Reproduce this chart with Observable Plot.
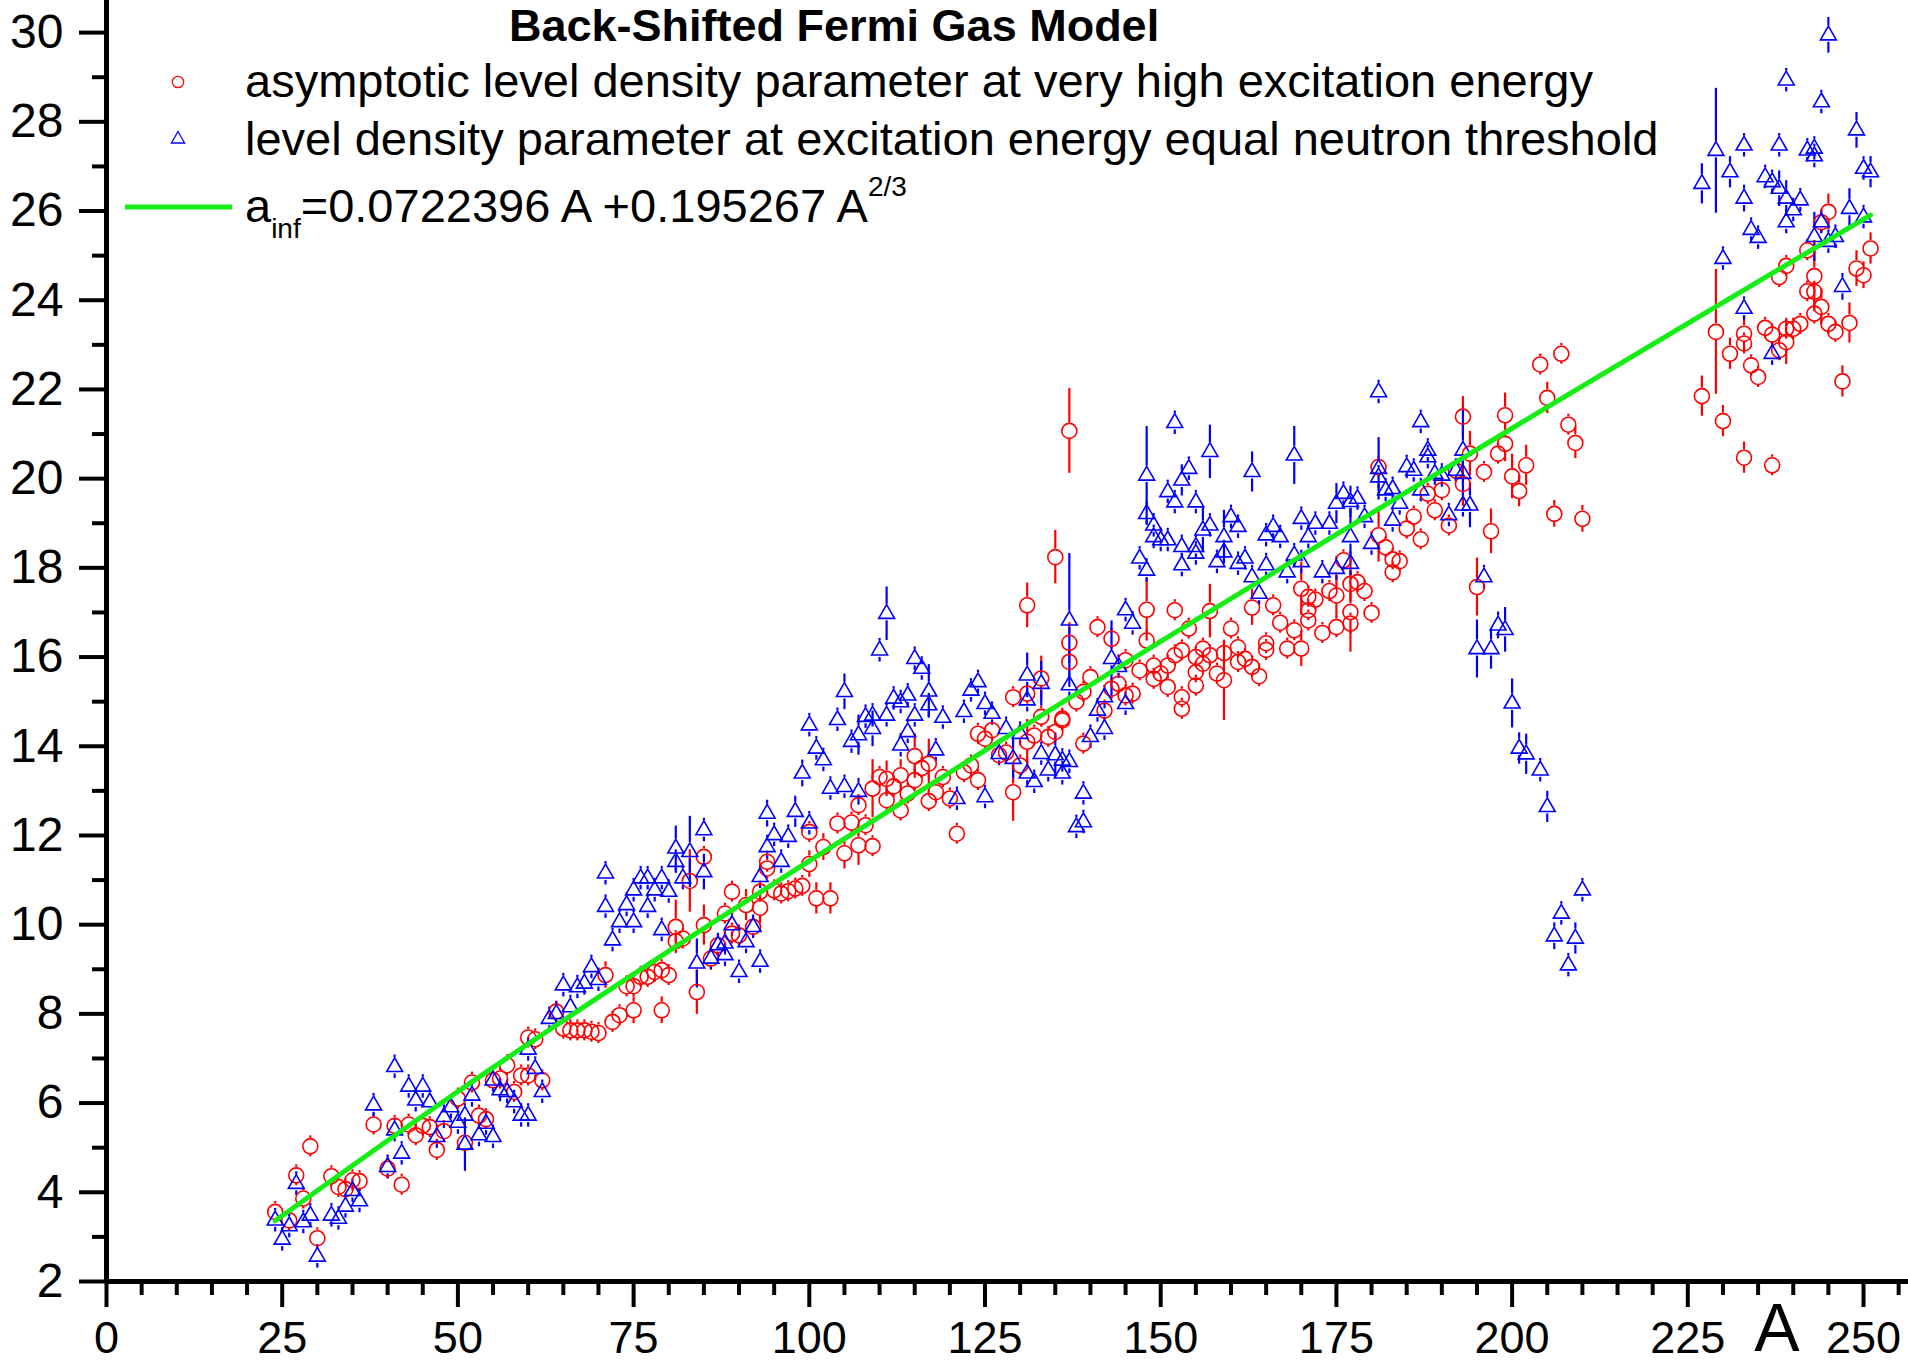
<!DOCTYPE html>
<html>
<head>
<meta charset="utf-8">
<script src="https://cdn.jsdelivr.net/npm/d3@7"></script>
<script src="https://cdn.jsdelivr.net/npm/@observablehq/plot@0.6"></script>
<style>
  html, body { margin: 0; padding: 0; background: #fff; }
  #wrap { position: relative; width: 1908px; height: 1367px; font-family: "Liberation Sans", Arial, sans-serif; }
  #wrap svg { position: absolute; left: 0; top: 0; }
</style>
</head>
<body>
<div id="wrap"></div>
<script>
// ---------- DATA ----------
// [A, value, error?]  (error defaults when omitted)
const redPoints = [
  [24,3.56],[26,3.37],[27,4.38],[28,3.86],[29,5.03],[30,2.97],[32,4.36],[33,4.12],[34,4.07],[35,4.27],[36,4.25],
  [38,5.52],[40,4.53],[41,5.49],[42,4.17],[43,5.52],[44,5.28],[45,5.49],[46,5.46],[47,4.95],[48,5.37],[50,6.1],
  [51,5.11],[52,6.46],[53,5.72],[54,5.64],[55,6.51],[56,6.55],[57,6.85],[58,6.25],[59,6.62],[60,6.62],[60,7.47],
  [61,7.43],[62,6.51],[64,8.05],[65,7.67],[66,7.63],[67,7.63],[68,7.63],[69,7.6],[70,7.57],[71,8.87,0.3],[72,7.82],
  [73,7.97],[74,8.62],[75,8.62],[75,8.08,0.3],[76,8.83],[77,8.83],[78,8.94],[79,8.98],[79,8.08,0.3],[80,8.87],
  [81,9.95,0.6],[81,9.63],[82,9.69],[83,10.98,0.7],[84,8.49,0.5],[85,9.99,0.45],[85,11.52],[86,9.24],[87,9.54],
  [88,10.25],[89,10.74],[89,9.8],[90,9.76],[91,10.44,0.35],[92,9.95],[93,10.38,0.35],[93,10.74],[94,11.41],[94,11.26],
  [95,10.77],[96,10.7],[97,10.75],[98,10.81],[99,10.87],[100,11.36,0.3],[100,12.08],[101,10.59,0.35],[102,11.74,0.3],
  [103,10.59,0.35],[104,12.27],[105,11.6,0.35],[106,12.29],[107,12.68],[107,11.78,0.45],
  [108,12.23],[109,11.76],[109,13.05,0.65],[110,13.31],[111,12.79],[111,13.27,0.4],[112,13.1],[113,13.35,0.35],[113,12.56],
  [114,12.94],[115,13.78,0.5],[115,13.24],[116,13.51],[117,13.61,0.55],[117,12.77],[118,12.97],[119,13.31],[120,12.83],
  [121,12.04],[122,13.42],[123,13.57],[124,13.24],[124,14.28],[125,14.17],[126,14.36],[127,13.8],[128,13.86],
  [129,12.97,0.65],[129,15.1],[130,13.57],[131,15.18],[131,14.1,0.5],[131,17.16,0.5],[132,14.24],[133,15.52,0.5],
  [133,14.66],[134,14.21],[135,14.32],[136,14.62],[137,16.32,0.45],[137,15.89],[139,15.22],[140,15.55],[141,16.67],[139,14.06],
  [137,21.07,0.95],[135,18.24,0.6],[136,14.58],[138,15.0],[142,14.8],[143,16.41],[143,15.29],[144,15.4],[145,15.93],
  [145,15.14],[146,15.18],[147,15.7],[148,17.06,0.7],[148,16.37],[149,15.81],[149,15.51],[150,15.63],[151,15.81],
  [151,15.33],[152,17.05],[152,16.04],[153,16.15],[153,15.1],[153,14.84],[154,16.64],[155,16.0],[155,15.66],[155,15.36],
  [156,16.19],[156,15.85],[157,17.03,0.6],[157,16.04],[158,15.63],[159,16.09],[159,15.48,0.9],[160,16.64],[161,16.22],
  [161,15.89],[162,15.96],[163,15.78],[163,17.11,0.4],[164,15.57],[165,16.31],[165,16.16],[166,17.16],[167,16.77],
  [168,16.19],[169,16.6],[170,16.19,0.4],[170,17.53,0.6],[171,17.35],[171,17.05],[171,16.82],[172,17.29],[173,16.54],
  [174,17.48],[175,17.38,0.5],[175,16.67],[176,18.17],[177,17.01,0.9],[177,16.75],[177,17.64,0.4],
  [178,17.68],[179,17.48],[180,16.99],[181,18.73,0.6],[181,20.26],[182,18.46],[183,18.19],[183,17.9],[184,18.15],
  [185,18.88],[186,19.15],[187,18.64],[188,19.66],[189,19.29],[190,19.74],[191,18.95],[192,20.18],[193,21.39,0.45],
  [193,19.88,0.5],[194,20.56,0.5],[195,17.57,0.65],[196,20.15],[197,18.82,0.5],[198,20.56],[199,21.42,0.5],[199,20.78,0.4],
  [200,20.05,0.5],[201,19.72,0.35],[202,20.3,0.45],[204,22.56],[205,21.81,0.35],[206,19.21,0.3],[207,22.8],[208,21.21],
  [209,20.8,0.35],[210,19.1,0.3],
  [227,21.85,0.45],[229,23.29,1.4],[230,21.29,0.35],[231,22.8,0.35],[233,23.25,0.4],[233,23.03],[233,20.47,0.35],
  [234,22.54],[235,22.28],[236,23.38],[237,23.23],[237,20.3],[238,24.52],[238,22.88],[239,24.77],[239,23.06,0.5],
  [239,23.36],[240,23.36],[241,23.47],[242,25.12],[242,24.2],[243,24.54,0.8],[243,24.19],[243,23.7],[244,25.75],
  [244,23.85,0.4],[245,25.98,0.4],[245,23.47],[246,23.29],[247,22.18,0.35],[248,23.49,0.45],[249,24.71,0.4],
  [250,24.56,0.3],[251,25.16,0.35]
];

const bluePoints = [
  [24,3.37],[25,2.94],[26,3.24],[27,4.19],[28,3.33],[29,3.48],[30,2.56],[32,3.48],[33,3.41],[34,3.68],[35,4.03],
  [36,3.8],[38,5.95],[40,4.57],[41,6.81],[41,5.39],[42,4.87],[43,6.37],[44,6.06],[45,6.37],[46,6.02],[47,5.24],
  [48,5.69],[49,5.91],[50,5.56],[51,5.07,0.6],[51,5.72],[52,6.17],[53,5.28],[54,5.54],[55,5.24],[55,6.51],[56,6.29],
  [57,6.25],[58,6.02],[59,5.72],[60,5.72],[60,7.2],[61,6.77],[62,6.25],[63,7.89],[64,8.0],[65,8.64],[66,8.15],[67,8.6],
  [68,8.68],[69,9.05],[70,8.76],[71,11.15],[71,10.4],[72,9.65],[73,10.06],[74,10.44],[75,10.06],[75,10.77],[76,11.04],
  [77,11.04],[77,10.4],[78,10.77],[79,11.04],[79,9.88],[80,10.74],[81,11.71,0.5],[81,11.41],[82,11.04],[83,11.63,0.8],
  [84,9.13,0.55],[85,12.12],[85,11.18,0.4],[86,9.24],[87,9.54],[88,9.32],[88,9.58],[89,9.99],[90,8.94],[91,9.61],
  [92,9.95],[93,9.17],[93,11.07],[94,12.49,0.3],[94,11.74],[95,12.01],[96,11.41],[97,11.97],[98,12.53,0.35],
  [99,13.39,0.3],[100,12.27],[100,14.47],[101,13.95],[102,13.69],[103,13.05],[104,14.59],[105,13.09],[105,15.22,0.4],
  [106,14.1],[107,12.98,0.3],[107,14.25,0.45],
  [108,14.66],[109,14.69],[109,14.39,0.4],[110,16.15],[111,16.97,0.6],[111,14.69],[112,15.07],[113,14.99],[113,14.02],
  [114,15.14],[114,14.32],[115,15.96],[115,14.69],[116,15.74],[117,15.23,0.6],[117,14.92],[118,13.91],[119,14.64],
  [121,12.82],[122,14.77],[123,15.25],[124,15.44],[125,14.95],[126,14.73],[125,12.86],[127,13.83],[128,14.39],
  [129,13.72,0.45],[130,14.28],[131,15.59,0.5],[131,15.03],[131,13.39],[132,13.2],[133,15.4,0.5],[133,13.83],
  [134,13.46],[135,13.8,0.5],[136,13.39],[137,16.82,1.5],[137,15.37],[136,13.68],[137,13.65],[139,12.94],[138,12.19],
  [139,12.3],[140,14.21],[141,14.8],
  [142,14.39],[142,15.1],[143,15.96,0.85],[144,15.78],[145,17.05],[146,16.75],[145,14.95],[147,18.21],[148,17.94],
  [148,20.07,1.1],[148,19.21],[149,18.95],[149,18.69],[150,18.62],[151,18.62],[151,19.7],[152,19.47],[152,21.25],
  [153,18.47],[153,18.06],[153,19.96,0.35],[154,20.22],[155,19.47],[155,18.47],[155,18.32],[156,18.84,0.5],
  [157,20.6,0.6],[157,18.95],[158,18.13],[159,18.69,0.6],[159,18.35],[160,19.14],[161,18.92],[161,18.09],[162,18.21],
  [163,20.15,0.45],[163,17.79],[164,17.42],[165,18.73],[165,18.06],[166,18.92],[167,18.69],[168,17.9],[169,20.52,0.65],
  [169,18.28],[170,19.1],[170,18.13],[171,18.69],[172,18.99],[173,17.9],[174,18.99],[175,17.98],[175,19.44,0.45],
  [176,19.66],[177,18.69,0.65],[177,18.09],[177,19.48,0.35],
  [178,19.55],[179,19.14],[180,18.54],[181,21.94],[181,20.22,0.7],[181,20.03],[182,19.74],[183,19.77],[183,19.06],
  [184,19.44],[185,20.26],[186,20.18],[187,21.27],[187,19.74],[188,20.63],[188,20.48],[189,20.11],[190,20.07],
  [191,19.18],[192,20.18],[193,20.63,0.95],[193,20.11],[193,19.4],[194,19.4,0.5],[195,16.18,0.65],[196,17.79],
  [197,16.18,0.45],[198,16.71,0.3],[199,16.61,0.5],
  [200,14.96,0.55],[201,13.95,0.35],[202,13.82,0.45],[204,13.46],[205,12.64,0.35],[210,10.77],[207,10.25],
  [206,9.74,0.3],[209,9.69,0.35],[208,9.09],
  [245,29.94,0.4],[239,28.93],[244,28.44],[249,27.81,0.4],[229,27.35,1.4],[233,27.47],[238,27.47],[242,27.36],
  [243,27.4],[243,27.23],[231,26.87,0.35],[227,26.61,0.45],[236,26.76],[237,26.65],[238,26.5,0.4],[239,26.28,0.4],
  [240,26.02],[241,26.24],[233,26.28,0.3],[250,26.95],[251,26.87,0.35],[248,26.05,0.45],[250,25.86],[239,25.75],
  [244,25.75],[234,25.58],[235,25.4],[243,25.42,0.55],[246,25.42],[245,25.31],[230,24.93],[233,23.81],[247,24.3,0.3],
  [237,22.8]
];

// green fit curve, read at a few A values
const fitA = [24, 50, 75, 100, 125, 150, 175, 200, 225, 251];
const fitV = [3.36, 6.26, 8.89, 11.43, 13.91, 16.35, 18.75, 21.13, 23.48, 25.91];

const xTicksMajor = [0, 25, 50, 75, 100, 125, 150, 175, 200, 225, 250];
const yTicksMajor = [2, 4, 6, 8, 10, 12, 14, 16, 18, 20, 22, 24, 26, 28, 30];

// ---------- LAYOUT ----------
const W = 1908, H = 1367;
const mL = 106, mR = 0, mT = 0, mB = 86;
const xDom = [0, 256.4], yDom = [2, 30.72];
const ppu = (H - mT - mB) / (yDom[1] - yDom[0]); // px per y unit
const FONT = '"Liberation Sans", Arial, Helvetica, sans-serif';

const toObj = (p, def) => ({A: p[0], v: p[1], e: p.length > 2 ? p[2] : def});
const red = redPoints.map(p => toObj(p, 0.22));
const blue = bluePoints.map(p => toObj(p, 0.26));
const fit = fitA.map((a, i) => ({A: a, v: fitV[i]}));

// error bar pieces drawn outside the symbol, with a minimal visible tick
function bars(data, rUp, rDn, minLen) {
  const up = [], dn = [];
  for (const d of data) {
    const a = rUp / ppu, b = rDn / ppu, m = minLen / ppu;
    up.push({A: d.A, y1: d.v + a, y2: d.v + Math.max(d.e, a + m)});
    dn.push({A: d.A, y1: d.v - Math.max(d.e, b + m), y2: d.v - b});
  }
  return up.concat(dn);
}
const redBars = bars(red, 8.0, 8.0, 2.5);
const blueBars = bars(blue, 9.4, 7.0, 2.5);

const minorX = d3.range(0, 256, 5).filter(v => v % 25 !== 0);
const minorY = d3.range(3, 31, 2);

const chart = Plot.plot({
  width: W, height: H,
  marginLeft: mL, marginRight: mR, marginTop: mT, marginBottom: mB,
  style: {fontFamily: FONT, background: "white", overflow: "visible"},
  x: {domain: xDom},
  y: {domain: yDom},
  marks: [
    Plot.ruleX(redBars, {x: "A", y1: "y1", y2: "y2", stroke: "#ff0000", strokeWidth: 2.2}),
    Plot.ruleX(blueBars, {x: "A", y1: "y1", y2: "y2", stroke: "#0000ff", strokeWidth: 2.2}),
    Plot.dot(red, {x: "A", y: "v", r: 7.5, stroke: "#ff0000", strokeWidth: 1.6, fill: "none"}),
    Plot.dot(blue, {x: "A", y: "v", symbol: "triangle", r: 5.9, stroke: "#0000ff", strokeWidth: 1.6, fill: "none"}),
    Plot.line(fit, {x: "A", y: "v", stroke: "#14ee14", strokeWidth: 5, curve: "catmull-rom"}),
    // axes
    Plot.axisX({ticks: xTicksMajor, tickSize: 26, tickPadding: 14, fontSize: 45, strokeWidth: 4, label: null, tickFormat: d => String(d)}),
    Plot.axisX({ticks: minorX, tickSize: 14, strokeWidth: 4, label: null, tickFormat: () => ""}),
    Plot.axisY({ticks: yTicksMajor, tickSize: 27, tickPadding: 16, fontSize: 48, strokeWidth: 4, label: null, tickFormat: d => String(d)}),
    Plot.axisY({ticks: minorY, tickSize: 14, strokeWidth: 4, label: null, tickFormat: () => ""}),
    Plot.ruleY([yDom[0]], {stroke: "black", strokeWidth: 5}),
    Plot.ruleX([0], {stroke: "black", strokeWidth: 5})
  ]
});
document.getElementById("wrap").appendChild(chart);

// ---------- title, legend, axis name (overlay) ----------
const ns = "http://www.w3.org/2000/svg";
const ov = d3.select("#wrap").append("svg")
  .attr("xmlns", ns).attr("width", W).attr("height", H)
  .style("pointer-events", "none")
  .style("font-family", FONT);

ov.append("text").attr("x", 509).attr("y", 41)
  .attr("font-size", 45).attr("font-weight", "bold").attr("fill", "black")
  .text("Back-Shifted Fermi Gas Model");

ov.append("circle").attr("cx", 178).attr("cy", 82).attr("r", 5.7)
  .attr("fill", "none").attr("stroke", "#ff0000").attr("stroke-width", 1.3);
ov.append("text").attr("x", 245).attr("y", 97).attr("font-size", 47).attr("fill", "black")
  .text("asymptotic level density parameter at very high excitation energy");

ov.append("path").attr("d", "M178,131.5 L184.6,143 L171.4,143 Z")
  .attr("fill", "none").attr("stroke", "#0000ff").attr("stroke-width", 1.3);
ov.append("text").attr("x", 245).attr("y", 155).attr("font-size", 47).attr("fill", "black")
  .text("level density parameter at excitation energy equal neutron threshold");

ov.append("line").attr("x1", 125).attr("x2", 232).attr("y1", 207).attr("y2", 207)
  .attr("stroke", "#14ee14").attr("stroke-width", 5);
const t3 = ov.append("text").attr("x", 245).attr("y", 222).attr("font-size", 47).attr("fill", "black");
t3.append("tspan").text("a");
t3.append("tspan").attr("font-size", 28).attr("dy", 16).text("inf");
t3.append("tspan").attr("dy", -16).text("=0.0722396 A +0.195267 A");
t3.append("tspan").attr("font-size", 28).attr("dy", -26).text("2/3");

ov.append("text").attr("x", 1777).attr("y", 1351).attr("text-anchor", "middle")
  .attr("font-size", 68).attr("fill", "black").text("A");
</script>
</body>
</html>
